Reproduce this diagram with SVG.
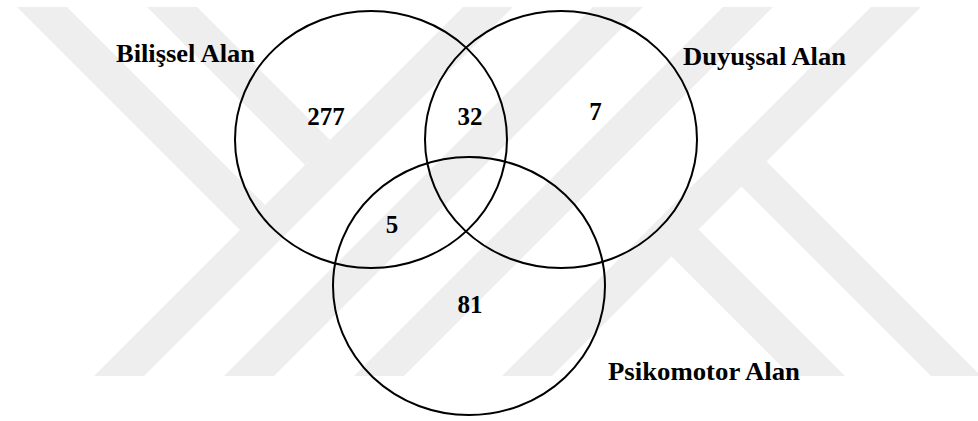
<svg xmlns="http://www.w3.org/2000/svg" width="978" height="421" viewBox="0 0 978 421">
<style>
.wm{fill:#eeeeee;stroke:none}
.set{fill:none;stroke:#000;stroke-width:2}
.lbl{font-family:"Liberation Serif","Times New Roman",serif;font-weight:bold;font-size:25px;fill:#000}
.num{font-family:"Liberation Serif","Times New Roman",serif;font-weight:bold;font-size:25px;fill:#000;text-anchor:middle}
</style>
<rect width="978" height="421" fill="#fff"/>
<g id="watermark">
<polygon class="wm" points="463,7 513,7 144,376 94,376"/>
<polygon class="wm" points="593,7 643,7 274,376 224,376"/>
<polygon class="wm" points="723,7 773,7 404,376 354,376"/>
<polygon class="wm" points="871,7 921,7 552,376 502,376"/>
<polygon class="wm" points="17,7 67,7 265,205 240,230"/>
<polygon class="wm" points="147,7 197,7 330,140 305,165"/>
<polygon class="wm" points="646.5,231.5 673.5,204.5 845,376 791,376"/>
<polygon class="wm" points="716.5,161.5 741.5,136.5 981,376 931,376"/>
</g>
<g id="bilissel">
<ellipse class="set" cx="371" cy="139.5" rx="136" ry="128.5"/>
<text class="lbl" x="116" y="62" textLength="139" lengthAdjust="spacingAndGlyphs">Bilişsel Alan</text>
</g>
<g id="duyussal">
<ellipse class="set" cx="561" cy="139.5" rx="136" ry="128.5"/>
<text class="lbl" x="683" y="64.5" textLength="163" lengthAdjust="spacingAndGlyphs">Duyuşsal Alan</text>
</g>
<g id="psikomotor">
<ellipse class="set" cx="469" cy="286" rx="136" ry="129"/>
<text class="lbl" x="608" y="380" textLength="192" lengthAdjust="spacingAndGlyphs">Psikomotor Alan</text>
</g>
<g id="counts">
<text class="num" x="326" y="125">277</text>
<text class="num" x="470" y="125">32</text>
<text class="num" x="595.5" y="119.5">7</text>
<text class="num" x="392" y="233">5</text>
<text class="num" x="470" y="313">81</text>
</g>
</svg>
